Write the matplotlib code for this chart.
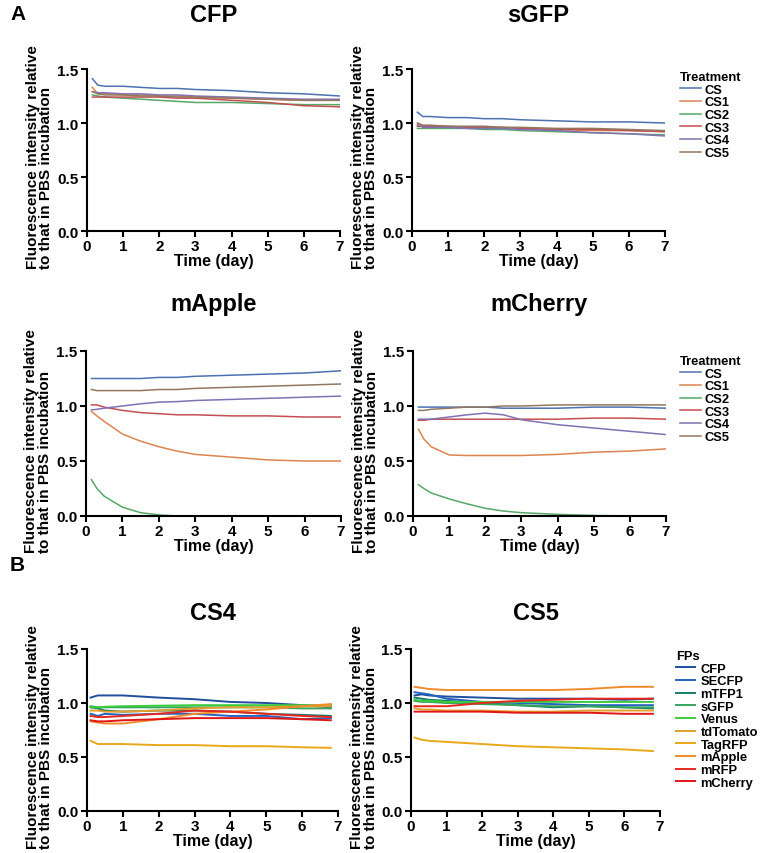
import numpy as np
import matplotlib
matplotlib.use("Agg")
import matplotlib.pyplot as plt

plt.rcParams["font.family"] = ["Liberation Sans", "DejaVu Sans"]
plt.rcParams["font.weight"] = "bold"

# ---- data ----
treatments = ["CS", "CS1", "CS2", "CS3", "CS4", "CS5"]
treat_colors = ["#4C72B0", "#DD8452", "#55A868", "#C44E52", "#8172B3", "#937860"]

fps = ["CFP", "SECFP", "mTFP1", "sGFP", "Venus", "tdTomato", "TagRFP", "mApple", "mRFP", "mCherry"]
fp_colors = ["#1F4E9E", "#2463C2", "#167D6E", "#35A45C", "#3CCB3C",
             "#E3A02A", "#E9A81A", "#F08A2C", "#E8281E", "#E01515"]

t_a = [0.15, 0.3, 0.5, 1, 1.5, 2, 2.5, 3, 4, 5, 6, 7]
t_b = [0.1, 0.3, 0.5, 1, 2, 3, 4, 5, 6, 6.8]

cfp_cs = [1.41, 1.35, 1.34, 1.34, 1.33, 1.32, 1.32, 1.31, 1.30, 1.28, 1.27, 1.25]
cfp_cs1 = [1.33, 1.27, 1.27, 1.26, 1.26, 1.25, 1.25, 1.24, 1.23, 1.22, 1.21, 1.21]
cfp_cs2 = [1.26, 1.25, 1.24, 1.23, 1.22, 1.21, 1.20, 1.19, 1.19, 1.18, 1.17, 1.17]
cfp_cs3 = [1.24, 1.24, 1.24, 1.24, 1.24, 1.24, 1.23, 1.23, 1.21, 1.19, 1.16, 1.15]
cfp_cs4 = [1.29, 1.28, 1.28, 1.27, 1.27, 1.26, 1.26, 1.25, 1.24, 1.23, 1.22, 1.22]
cfp_cs5 = [1.29, 1.27, 1.26, 1.26, 1.25, 1.25, 1.24, 1.24, 1.23, 1.22, 1.21, 1.21]

sgfp_cs = [1.10, 1.06, 1.06, 1.05, 1.05, 1.04, 1.04, 1.03, 1.02, 1.01, 1.01, 1.00]
sgfp_cs1 = [0.97, 0.97, 0.97, 0.96, 0.96, 0.96, 0.95, 0.95, 0.94, 0.93, 0.93, 0.92]
sgfp_cs2 = [0.95, 0.95, 0.95, 0.95, 0.95, 0.94, 0.94, 0.93, 0.92, 0.91, 0.90, 0.89]
sgfp_cs3 = [0.97, 0.97, 0.97, 0.97, 0.96, 0.96, 0.96, 0.95, 0.94, 0.94, 0.93, 0.92]
sgfp_cs4 = [0.99, 0.96, 0.96, 0.96, 0.95, 0.95, 0.95, 0.94, 0.93, 0.91, 0.90, 0.88]
sgfp_cs5 = [1.00, 0.98, 0.98, 0.97, 0.97, 0.97, 0.96, 0.96, 0.95, 0.95, 0.94, 0.93]

mapple_cs = [1.25, 1.25, 1.25, 1.25, 1.25, 1.26, 1.26, 1.27, 1.28, 1.29, 1.30, 1.32]
mapple_cs1 = [0.95, 0.91, 0.86, 0.745, 0.68, 0.63, 0.59, 0.56, 0.535, 0.51, 0.50, 0.50]
mapple_cs2 = [0.33, 0.25, 0.18, 0.08, 0.03, 0.01, 0.0, np.nan, np.nan, np.nan, np.nan, np.nan]
mapple_cs3 = [1.01, 1.01, 0.99, 0.96, 0.94, 0.93, 0.92, 0.92, 0.91, 0.91, 0.90, 0.90]
mapple_cs4 = [0.965, 0.97, 0.98, 1.00, 1.02, 1.035, 1.04, 1.05, 1.06, 1.07, 1.08, 1.09]
mapple_cs5 = [1.15, 1.14, 1.14, 1.14, 1.14, 1.15, 1.15, 1.16, 1.17, 1.18, 1.19, 1.20]

mcherry_cs = [0.99, 0.99, 0.99, 0.99, 0.99, 0.99, 0.98, 0.98, 0.98, 0.99, 0.99, 0.98]
mcherry_cs1 = [0.79, 0.70, 0.63, 0.555, 0.55, 0.55, 0.55, 0.55, 0.56, 0.58, 0.59, 0.61]
mcherry_cs2 = [0.285, 0.25, 0.21, 0.155, 0.11, 0.07, 0.045, 0.03, 0.015, 0.005, 0.0, 0.0]
mcherry_cs3 = [0.87, 0.87, 0.88, 0.88, 0.88, 0.88, 0.88, 0.88, 0.88, 0.89, 0.89, 0.88]
mcherry_cs4 = [0.88, 0.88, 0.88, 0.90, 0.92, 0.935, 0.92, 0.875, 0.83, 0.80, 0.77, 0.74]
mcherry_cs5 = [0.96, 0.96, 0.97, 0.98, 0.99, 0.99, 1.00, 1.00, 1.01, 1.01, 1.01, 1.01]

cs4_cfp = [1.05, 1.07, 1.07, 1.07, 1.05, 1.035, 1.01, 1.00, 0.98, 0.96]
cs4_secfp = [0.90, 0.88, 0.90, 0.89, 0.90, 0.90, 0.88, 0.88, 0.85, 0.86]
cs4_mtfp1 = [0.96, 0.95, 0.93, 0.92, 0.93, 0.93, 0.92, 0.90, 0.89, 0.88]
cs4_sgfp = [0.97, 0.96, 0.96, 0.96, 0.96, 0.96, 0.96, 0.96, 0.95, 0.95]
cs4_venus = [0.96, 0.96, 0.965, 0.97, 0.975, 0.98, 0.98, 0.98, 0.98, 0.98]
cs4_tdtomato = [0.93, 0.93, 0.92, 0.92, 0.93, 0.95, 0.96, 0.96, 0.97, 0.97]
cs4_tagrfp = [0.65, 0.62, 0.62, 0.62, 0.61, 0.61, 0.60, 0.60, 0.59, 0.585]
cs4_mapple = [0.83, 0.82, 0.81, 0.81, 0.85, 0.90, 0.92, 0.94, 0.97, 0.99]
cs4_mrfp = [0.88, 0.87, 0.87, 0.88, 0.90, 0.93, 0.92, 0.90, 0.88, 0.87]
cs4_mcherry = [0.84, 0.83, 0.83, 0.84, 0.85, 0.86, 0.86, 0.86, 0.85, 0.84]

cs5_cfp = [1.07, 1.08, 1.07, 1.06, 1.05, 1.04, 1.04, 1.04, 1.03, 1.04]
cs5_secfp = [1.10, 1.09, 1.08, 1.04, 1.01, 1.00, 0.99, 0.98, 0.98, 0.98]
cs5_mtfp1 = [1.05, 1.04, 1.03, 1.02, 1.00, 0.98, 0.96, 0.97, 0.96, 0.95]
cs5_sgfp = [1.02, 1.01, 1.01, 1.00, 0.99, 0.98, 0.97, 0.97, 0.96, 0.96]
cs5_venus = [1.03, 1.02, 1.02, 1.01, 1.01, 1.01, 1.01, 1.01, 1.01, 1.01]
cs5_tdtomato = [0.95, 0.94, 0.94, 0.93, 0.93, 0.92, 0.92, 0.93, 0.93, 0.93]
cs5_tagrfp = [0.68, 0.66, 0.65, 0.64, 0.62, 0.60, 0.59, 0.58, 0.57, 0.555]
cs5_mapple = [1.15, 1.14, 1.13, 1.12, 1.12, 1.12, 1.12, 1.13, 1.15, 1.15]
cs5_mrfp = [0.97, 0.97, 0.97, 0.97, 1.00, 1.02, 1.03, 1.04, 1.04, 1.04]
cs5_mcherry = [0.92, 0.92, 0.92, 0.92, 0.92, 0.91, 0.91, 0.91, 0.90, 0.90]

panels_a = {
    "CFP": [cfp_cs, cfp_cs1, cfp_cs2, cfp_cs3, cfp_cs4, cfp_cs5],
    "sGFP": [sgfp_cs, sgfp_cs1, sgfp_cs2, sgfp_cs3, sgfp_cs4, sgfp_cs5],
    "mApple": [mapple_cs, mapple_cs1, mapple_cs2, mapple_cs3, mapple_cs4, mapple_cs5],
    "mCherry": [mcherry_cs, mcherry_cs1, mcherry_cs2, mcherry_cs3, mcherry_cs4, mcherry_cs5],
}
panels_b = {
    "CS4": [cs4_cfp, cs4_secfp, cs4_mtfp1, cs4_sgfp, cs4_venus,
            cs4_tdtomato, cs4_tagrfp, cs4_mapple, cs4_mrfp, cs4_mcherry],
    "CS5": [cs5_cfp, cs5_secfp, cs5_mtfp1, cs5_sgfp, cs5_venus,
            cs5_tdtomato, cs5_tagrfp, cs5_mapple, cs5_mrfp, cs5_mcherry],
}

W, H = 760, 854
fig = plt.figure(figsize=(W / 100, H / 100), dpi=100)


def px_axes(x0, x1, ytop, ybot):
    return fig.add_axes([x0 / W, 1 - ybot / H, (x1 - x0) / W, (ybot - ytop) / H])


def style(ax, title, title_y):
    ax.set_xlim(0, 7)
    ax.set_ylim(0, 1.5)
    ax.set_xticks(range(8))
    ax.set_yticks([0, 0.5, 1.0, 1.5])
    ax.set_yticklabels(["0.0", "0.5", "1.0", "1.5"])
    for s in ["top", "right"]:
        ax.spines[s].set_visible(False)
    for s in ["left", "bottom"]:
        ax.spines[s].set_linewidth(1.5)
    ax.tick_params(direction="out", length=4, width=1.5, labelsize=11, pad=2)
    ax.set_xlabel("Time (day)", fontsize=11.5, fontweight="bold", labelpad=0)
    ax.set_ylabel("Fluorescence intensity relative\nto that in PBS incubation",
                  fontsize=11, fontweight="bold", multialignment="left", linespacing=0.95)
    ax.yaxis.set_label_coords(-0.134, 0.46)
    bb = ax.get_position()
    fig.text(bb.x0 + bb.width / 2, 1 - title_y / H, title, fontsize=17,
             fontweight="bold", ha="center", va="center")


def add_legend(ax, title, x, top, hl, pad):
    ax.legend(title=title, loc="upper left", bbox_to_anchor=(x / W, 1 - top / H),
              bbox_transform=fig.transFigure, frameon=False, borderpad=0, borderaxespad=0,
              fontsize=9.3, title_fontproperties={"weight": "bold", "size": 9.3},
              handlelength=hl, handletextpad=pad, labelspacing=0.05, alignment="left")


# panel A
pos_a = {
    "CFP": (87, 340, 70, 232, 15),
    "sGFP": (412, 665, 70, 232, 15),
    "mApple": (86, 341, 352, 517, 305),
    "mCherry": (413, 666, 352, 517, 305),
}
for name, series in panels_a.items():
    x0, x1, yt, yb, ty = pos_a[name]
    ax = px_axes(x0, x1, yt, yb)
    for lab, vals, c in zip(treatments, series, treat_colors):
        ax.plot(t_a, vals, color=c, lw=1.1, label=lab)
    style(ax, name, ty)
    if name == "sGFP":
        add_legend(ax, "Treatment", 680, 72, 1.6, 0.3)
    if name == "mCherry":
        add_legend(ax, "Treatment", 680, 356, 1.6, 0.3)

# panel B
pos_b = {"CS4": (87, 338, 650, 812, 613), "CS5": (411, 660, 650, 812, 613)}
for name, series in panels_b.items():
    x0, x1, yt, yb, ty = pos_b[name]
    ax = px_axes(x0, x1, yt, yb)
    for lab, vals, c in zip(fps, series, fp_colors):
        ax.plot(t_b, vals, color=c, lw=1.4, label=lab)
    style(ax, name, ty)
    if name == "CS5":
        add_legend(ax, "FPs", 676, 651, 1.5, 0.4)

fig.text(10 / W, 1 - 15 / H, "A", fontsize=15, fontweight="bold", ha="left", va="center")
fig.text(10 / W, 1 - 566 / H, "B", fontsize=15, fontweight="bold", ha="left", va="center")

fig.savefig("out.png", dpi=100)
